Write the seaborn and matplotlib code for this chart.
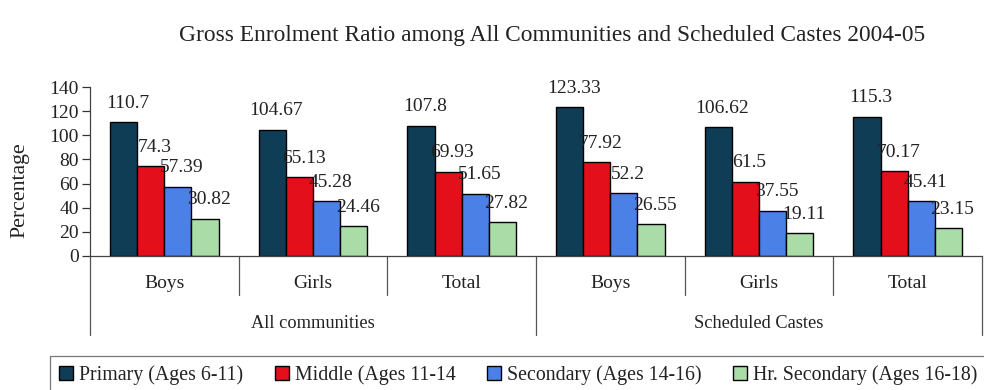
import matplotlib
matplotlib.use("Agg")
import matplotlib.pyplot as plt
import matplotlib.transforms as mtransforms
from matplotlib.patches import Patch
import seaborn as sns
import pandas as pd

# ---- data ----
groups = ["Boys", "Girls", "Total", "Boys", "Girls", "Total"]
communities = ["All communities", "Scheduled Castes"]
series_names = ["Primary (Ages 6-11)", "Middle (Ages 11-14",
                "Secondary (Ages 14-16)", "Hr. Secondary (Ages 16-18)"]
primary = [110.7, 104.67, 107.8, 123.33, 106.62, 115.3]
middle = [74.3, 65.13, 69.93, 77.92, 61.5, 70.17]
secondary = [57.39, 45.28, 51.65, 52.2, 37.55, 45.41]
hr_secondary = [30.82, 24.46, 27.82, 26.55, 19.11, 23.15]
yticks = [0, 20, 40, 60, 80, 100, 120, 140]
title = "Gross Enrolment Ratio among All Communities and Scheduled Castes 2004-05"
ylabel = "Percentage"

colors = ["#0f3d55", "#e3101b", "#4b80e6", "#a9dca6"]

rows = []
for s, vals in zip(series_names, [primary, middle, secondary, hr_secondary]):
    for i, v in enumerate(vals):
        rows.append({"pos": str(i), "series": s, "value": v})
df = pd.DataFrame(rows)

sns.set_theme(style="white")
plt.rcParams["font.family"] = ["Liberation Serif", "DejaVu Serif"]

W, H = 984, 390
fig = plt.figure(figsize=(W / 100, H / 100), dpi=100)
ax_left, ax_right, ax_top, ax_bottom = 90, 982, 87, 256
ax = fig.add_axes([ax_left / W, 1 - ax_bottom / H, (ax_right - ax_left) / W,
                   (ax_bottom - ax_top) / H])

sns.barplot(data=df, x="pos", y="value", hue="series", order=[str(i) for i in range(6)],
            hue_order=series_names, palette=colors, width=0.73, ax=ax,
            edgecolor="black", linewidth=1.0, legend=False, saturation=1)

ax.set_xlim(-0.5, 5.5)
ax.set_ylim(0, 140)
ax.set_yticks(yticks)
ax.tick_params(axis="y", which="both", left=True, length=6, width=0.9, pad=2,
               labelsize=14, colors="#333333", labelcolor="#222222")
ax.tick_params(axis="x", bottom=False, labelbottom=False)
ax.set_xlabel("")
ax.set_ylabel("")
for side in ["top", "right"]:
    ax.spines[side].set_visible(False)
ax.spines["left"].set_color("#444444")
ax.spines["bottom"].set_color("#444444")
ax.spines["left"].set_linewidth(0.9)
ax.spines["bottom"].set_linewidth(0.9)

# value labels
for cont in ax.containers:
    for bar in cont:
        h = bar.get_height()
        ax.annotate(str(h), (bar.get_x() + bar.get_width() / 2, h),
                    xytext=(3, 7.5), textcoords="offset points",
                    ha="center", va="bottom", fontsize=14, color="#222222")

# category separators and labels
trans = mtransforms.blended_transform_factory(ax.transData, ax.transAxes)
axh = ax_bottom - ax_top
inner_y = -(295 - ax_bottom) / axh
outer_y = -(335 - ax_bottom) / axh
for b in [-0.5, 0.5, 1.5, 2.5, 3.5, 4.5, 5.5]:
    y2 = outer_y if b in (-0.5, 2.5, 5.5) else inner_y
    ax.plot([b, b], [0, y2], transform=trans, color="#555555", lw=0.9, clip_on=False)
for i, g in enumerate(groups):
    ax.text(i, -(283 - ax_bottom) / axh, g, transform=trans, ha="center", va="center",
            fontsize=14, color="#222222")
for j, c in enumerate(communities):
    ax.text(1 + 3 * j, -(323 - ax_bottom) / axh, c, transform=trans, ha="center",
            va="center", fontsize=13.2, color="#222222")

# title & y label
fig.text(552 / W, 1 - 35 / H, title, ha="center", va="center", fontsize=16.8,
         color="#222222")
fig.text(20 / W, 1 - 190 / H, ylabel, rotation=90, ha="center", va="center",
         fontsize=15.7, color="#222222")

# legend
handles = [Patch(facecolor=c, edgecolor="black", linewidth=1.0) for c in colors]
leg = fig.legend(handles, series_names, loc="upper left",
                 bbox_to_anchor=(50 / W, 1 - 356 / H), ncol=4, frameon=True,
                 fancybox=False, fontsize=14.3, handlelength=0.7, handleheight=0.7,
                 handletextpad=0.3, columnspacing=1.6, borderpad=0.45,
                 borderaxespad=0)
leg.get_frame().set_edgecolor("#555555")
leg.get_frame().set_linewidth(0.9)
for t in leg.get_texts():
    t.set_color("#222222")

fig.savefig("out.png", dpi=100)
